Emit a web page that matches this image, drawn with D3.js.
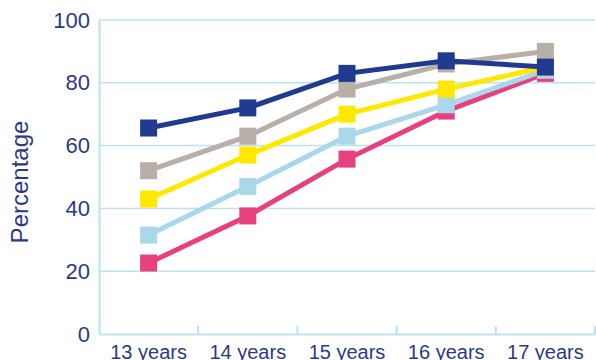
<!DOCTYPE html>
<html>
<head>
<meta charset="utf-8">
<script src="https://cdn.jsdelivr.net/npm/d3@7"></script>
<style>
  body { margin: 0; background: #fff; }
  text { font-family: "Liberation Sans", Arial, sans-serif; fill: #2a3a86; }
</style>
</head>
<body>
<div id="chart"></div>
<script>
// categories along the x axis
const ages = ["13 years", "14 years", "15 years", "16 years", "17 years"];
const yTicks = [0, 20, 40, 60, 80, 100];

// series values (percent)
const pinkValues = [22.6, 37.6, 55.7, 71, 83];
const lightBlueValues = [31.5, 47, 63, 73, 84];
const yellowValues = [43, 57, 70, 78, 85];
const greyValues = [52, 63, 78, 86, 90];
const navyValues = [65.6, 72, 83, 87, 85];

const series = [
  { name: "pink", color: "#e8407f", values: pinkValues },
  { name: "lightblue", color: "#a8d8ea", values: lightBlueValues },
  { name: "yellow", color: "#ffe800", values: yellowValues },
  { name: "grey", color: "#b8afa9", values: greyValues },
  { name: "navy", color: "#1f3a8e", values: navyValues },
];

const width = 596, height = 360;
const margin = { top: 20, right: 1, bottom: 26, left: 99 };

const svg = d3.select("#chart").append("svg")
  .attr("width", width).attr("height", height);

const x = d3.scaleBand()
  .domain(ages)
  .range([margin.left, width - margin.right]);

const y = d3.scaleLinear()
  .domain([0, 100])
  .range([height - margin.bottom, margin.top]);

const gridColor = "#bde2ee";

// horizontal grid lines
svg.append("g")
  .selectAll("line")
  .data(yTicks.slice(1))
  .join("line")
  .attr("x1", margin.left)
  .attr("x2", width - margin.right)
  .attr("y1", (d) => y(d))
  .attr("y2", (d) => y(d))
  .attr("stroke", gridColor)
  .attr("stroke-width", 1.5);

// y axis
const yAxis = d3.axisLeft(y).tickValues(yTicks).tickSize(0).tickPadding(9);
const gy = svg.append("g")
  .attr("transform", `translate(${margin.left},0)`)
  .call(yAxis);
gy.select(".domain").attr("stroke", gridColor).attr("stroke-width", 2);
gy.selectAll("text").style("font-size", "22px").attr("fill", "#2a3a86");

// x axis with ticks at the band edges, pointing up
const gx = svg.append("g")
  .attr("transform", `translate(0,${y(0)})`)
  .call(d3.axisBottom(x).tickSize(0).tickPadding(11));
gx.select(".domain").attr("stroke", gridColor).attr("stroke-width", 2);
gx.selectAll("text").style("font-size", "20px").attr("fill", "#2a3a86");

gx.selectAll("line.edge")
  .data(ages)
  .join("line")
  .attr("class", "edge")
  .attr("x1", (d) => x(d) + x.bandwidth())
  .attr("x2", (d) => x(d) + x.bandwidth())
  .attr("y1", 0)
  .attr("y2", -8)
  .attr("stroke", gridColor)
  .attr("stroke-width", 2);

// y axis title
svg.append("text")
  .attr("transform", `translate(28,${(y(0) + y(100)) / 2 + 5}) rotate(-90)`)
  .attr("text-anchor", "middle")
  .style("font-size", "24px")
  .text("Percentage");

// lines and markers
const cx = (i) => x(ages[i]) + x.bandwidth() / 2;
const line = d3.line()
  .x((d, i) => cx(i))
  .y((d) => y(d));

const markerSize = 17;

series.forEach((s) => {
  const g = svg.append("g");
  g.append("path")
    .datum(s.values)
    .attr("d", line)
    .attr("fill", "none")
    .attr("stroke", s.color)
    .attr("stroke-width", 5);
  g.selectAll("rect")
    .data(s.values)
    .join("rect")
    .attr("x", (d, i) => cx(i) - markerSize / 2)
    .attr("y", (d) => y(d) - markerSize / 2)
    .attr("width", markerSize)
    .attr("height", markerSize)
    .attr("fill", s.color);
});
</script>
</body>
</html>
